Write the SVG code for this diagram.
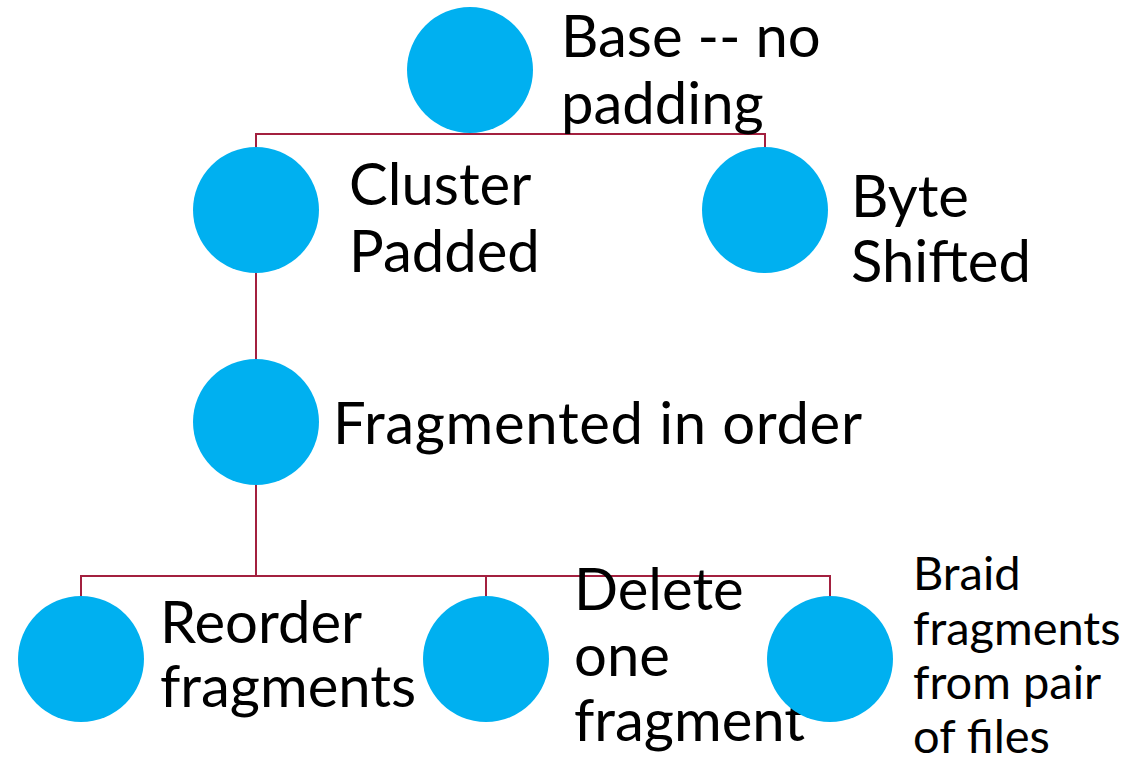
<svg xmlns="http://www.w3.org/2000/svg" width="1132" height="762" viewBox="0 0 1132 762">
<style>
.n{fill:#00B0F0}
.c{fill:none;stroke:#A3203F;stroke-width:2}
.t{font-family:Lato,"Open Sans","Liberation Sans",sans-serif;font-size:58px;fill:#000}
.s{font-family:Lato,"Open Sans","Liberation Sans",sans-serif;font-size:47px;fill:#000}
</style>
<rect width="1132" height="762" fill="#fff"/>
<g id="connectors">
<polyline class="c" points="256,147 256,134 765,134 765,147"/>
<line class="c" x1="470" y1="133" x2="470" y2="134"/>
<line class="c" x1="256" y1="273" x2="256" y2="359"/>
<line class="c" x1="256" y1="485" x2="256" y2="576"/>
<polyline class="c" points="81,596 81,576 830,576 830,596"/>
<line class="c" x1="486" y1="576" x2="486" y2="596"/>
</g>
<g id="base">
<circle class="n" cx="470" cy="70" r="63"/>
<text class="t" x="561" y="57">Base -- no</text>
<text class="t" x="561" y="124">padding</text>
</g>
<g id="cluster">
<circle class="n" cx="256" cy="210" r="63"/>
<text class="t" x="349" y="205">Cluster</text>
<text class="t" x="349" y="272">Padded</text>
</g>
<g id="byte">
<circle class="n" cx="765" cy="210" r="63"/>
<text class="t" x="851" y="217">Byte</text>
<text class="t" x="851" y="282">Shifted</text>
</g>
<g id="fragmented">
<circle class="n" cx="256" cy="422" r="63"/>
<text class="t" x="333" y="444" textLength="529" lengthAdjust="spacing">Fragmented in order</text>
</g>
<g id="reorder">
<circle class="n" cx="81" cy="659" r="63"/>
<text class="t" x="160" y="643">Reorder</text>
<text class="t" x="160" y="707">fragments</text>
</g>
<g id="delete">
<circle class="n" cx="486" cy="659" r="63"/>
<text class="t" x="574" y="610">Delete</text>
<text class="t" x="574" y="676">one</text>
<text class="t" x="574" y="741">fragment</text>
</g>
<g id="braid">
<circle class="n" cx="830" cy="659" r="63"/>
<text class="s" x="913" y="590">Braid</text>
<text class="s" x="913" y="645">fragments</text>
<text class="s" x="913" y="699">from pair</text>
<text class="s" x="913" y="753">of files</text>
</g>
</svg>
